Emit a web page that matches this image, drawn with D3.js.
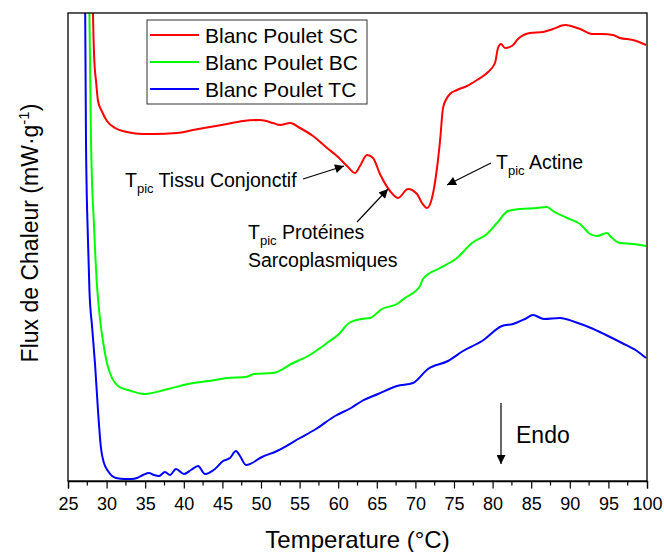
<!DOCTYPE html>
<html><head><meta charset="utf-8">
<script src="https://cdn.jsdelivr.net/npm/d3@7"></script>
<style>body{margin:0;background:#fff}svg{display:block}text{font-family:"Liberation Sans",Arial,sans-serif;fill:#000}</style>
</head><body>
<script>
// Temperatures (°C) and heat flow (arbitrary mW/g units, baseline-shifted)
const tempSC = [28.17,28.24,28.41,28.63,28.89,29.37,30.05,31.09,32.64,34.72,36.01,39.12,41.19,43.39,45.60,47.67,49.87,51.55,52.46,53.76,55.05,56.74,58.55,59.84,61.14,62.18,62.82,63.73,64.51,65.41,66.71,67.75,69.04,70.21,70.85,71.50,72.15,72.80,73.19,73.58,74.09,74.48,75.39,76.68,77.98,79.27,80.31,80.70,81.09,81.61,82.51,83.29,84.84,86.53,87.82,89.38,91.32,92.88,94.17,95.60,96.50,98.19,99.87];
const fluxSC = [5.00,4.67,4.20,4.00,3.80,3.70,3.60,3.53,3.49,3.47,3.47,3.48,3.51,3.54,3.57,3.60,3.61,3.58,3.56,3.58,3.53,3.45,3.33,3.25,3.15,3.08,3.15,3.26,3.23,3.07,2.90,2.83,2.92,2.87,2.78,2.73,2.83,3.13,3.40,3.73,3.83,3.87,3.91,3.95,4.01,4.08,4.18,4.33,4.37,4.33,4.35,4.42,4.48,4.49,4.52,4.56,4.52,4.47,4.47,4.46,4.43,4.41,4.36];

const tempBC = [27.72,27.98,28.37,28.76,29.15,29.53,30.05,30.44,31.48,32.77,34.97,37.95,40.54,44.04,45.60,48.06,49.09,51.55,54.15,56.09,58.55,60.10,61.40,63.08,64.12,65.67,67.62,68.65,70.60,70.98,73.19,75.39,77.33,79.27,80.57,82.00,83.55,85.75,87.05,87.82,89.64,91.32,92.62,93.52,94.82,95.21,96.50,98.19,99.87];
const fluxBC = [5.00,3.40,2.55,1.95,1.62,1.40,1.18,1.08,0.95,0.91,0.87,0.92,0.97,1.01,1.03,1.04,1.07,1.08,1.18,1.25,1.38,1.47,1.58,1.62,1.63,1.72,1.77,1.83,1.95,2.02,2.13,2.23,2.38,2.47,2.58,2.70,2.72,2.73,2.74,2.70,2.63,2.57,2.47,2.45,2.48,2.45,2.38,2.37,2.35];

const tempTC = [27.20,27.33,27.59,27.78,28.11,28.50,28.89,29.27,29.66,30.18,31.22,32.38,33.29,33.94,34.72,35.49,36.14,36.79,37.56,38.21,38.99,40.03,40.93,41.84,42.75,44.04,45.08,45.98,46.76,47.28,48.06,50.13,52.07,55.05,57.12,59.59,61.66,63.08,65.16,67.62,69.69,71.63,74.22,76.17,78.63,81.22,82.64,84.20,85.23,86.66,88.73,90.67,92.75,94.69,96.76,98.70,99.87];
const fluxTC = [5.00,3.40,2.40,1.90,1.55,1.17,0.70,0.33,0.18,0.10,0.03,0.02,0.02,0.03,0.06,0.08,0.06,0.05,0.09,0.06,0.12,0.07,0.11,0.15,0.07,0.12,0.20,0.23,0.30,0.25,0.16,0.24,0.30,0.43,0.52,0.65,0.73,0.80,0.87,0.95,0.98,1.12,1.20,1.30,1.40,1.55,1.57,1.62,1.66,1.62,1.63,1.59,1.53,1.46,1.38,1.30,1.23];

const seriesNames = ["Blanc Poulet SC","Blanc Poulet BC","Blanc Poulet TC"];
const seriesColors = ["#ff0000","#00ff00","#0000ff"];
const xTicks = [25,30,35,40,45,50,55,60,65,70,75,80,85,90,95,100];

const W=664,H=552, L=68, R=647, T=13, B=481;
const svg = d3.select("body").append("svg").attr("width",W).attr("height",H);
const x = d3.scaleLinear().domain([25,100]).range([L,R]);
const y = d3.scaleLinear().domain([0,4.68]).range([B,T]);

const defs = svg.append("defs");
defs.append("clipPath").attr("id","clip").append("rect").attr("x",L).attr("y",T).attr("width",R-L).attr("height",B-T);
defs.append("marker").attr("id","ah").attr("viewBox","0 0 10 10").attr("refX",10).attr("refY",5)
  .attr("markerWidth",13).attr("markerHeight",9).attr("markerUnits","userSpaceOnUse").attr("orient","auto")
  .append("path").attr("d","M0,0 L10,5 L0,10 Z").attr("fill","#000");

const series = [[tempSC,fluxSC],[tempBC,fluxBC],[tempTC,fluxTC]];
const line = d3.line().x(d=>x(d[0])).y(d=>y(d[1])).curve(d3.curveMonotoneX);
const g = svg.append("g").attr("clip-path","url(#clip)");
series.forEach((s,i)=>{
  const pts = s[0].map((t,k)=>[t,s[1][k]]);
  g.append("path").datum(pts).attr("d",line).attr("fill","none")
   .attr("stroke",seriesColors[i]).attr("stroke-width",2).attr("stroke-linejoin","round");
});

// frame
svg.append("rect").attr("x",L).attr("y",T).attr("width",R-L).attr("height",B-T)
  .attr("fill","none").attr("stroke","#000").attr("stroke-width",1.3);

// x axis
const xAxis = d3.axisBottom(x).tickValues(xTicks).tickSize(7.5).tickFormat(d3.format("d"));
const ax = svg.append("g").attr("transform",`translate(0,${B})`).call(xAxis);
ax.select(".domain").attr("stroke","#000").attr("stroke-width",1.3);
ax.selectAll(".tick line").attr("stroke-width",1.2);
ax.selectAll(".tick text").attr("font-size",18).attr("dy","1.05em").style("font-family","Liberation Sans, Arial, sans-serif");
const minor = d3.range(27.5,100,5);
svg.append("g").selectAll("line").data(minor).join("line")
  .attr("x1",d=>x(d)).attr("x2",d=>x(d)).attr("y1",B).attr("y2",B+4.5).attr("stroke","#000").attr("stroke-width",1.2);

svg.append("text").attr("x",(L+R)/2).attr("y",548).attr("text-anchor","middle").attr("font-size",24).text("Temperature (°C)");

const yl = svg.append("text").attr("transform","translate(38,233) rotate(-90)").attr("text-anchor","middle").attr("font-size",23);
yl.append("tspan").text("Flux de Chaleur (mW·g");
yl.append("tspan").attr("font-size",15).attr("dy",-9).text("-1");
yl.append("tspan").attr("dy",9).text(")");

// legend
svg.append("rect").attr("x",147).attr("y",20).attr("width",220).attr("height",84).attr("fill","#fff").attr("stroke","#333").attr("stroke-width",1);
seriesNames.forEach((n,i)=>{
  const cy = 35 + i*27;
  svg.append("line").attr("x1",150).attr("x2",199).attr("y1",cy).attr("y2",cy).attr("stroke",seriesColors[i]).attr("stroke-width",2);
  svg.append("text").attr("x",205).attr("y",cy+8).attr("font-size",21).text(n);
});

// annotations
function tpic(xp,yp,rest){
  const t = svg.append("text").attr("x",xp).attr("y",yp).attr("font-size",19.5);
  t.append("tspan").text("T");
  t.append("tspan").attr("font-size",13).attr("dy",6).text("pic");
  t.append("tspan").attr("dy",-6).text(" "+rest);
}
function arrow(x1,y1,x2,y2){
  svg.append("line").attr("x1",x1).attr("y1",y1).attr("x2",x2).attr("y2",y2).attr("stroke","#000").attr("stroke-width",1.2).attr("marker-end","url(#ah)");
}
tpic(125,187,"Tissu Conjonctif");
arrow(303,179,344,166);
tpic(248,239,"Protéines");
svg.append("text").attr("x",248).attr("y",267).attr("font-size",19.5).text("Sarcoplasmiques");
arrow(357,222,388,189);
tpic(496,169,"Actine");
arrow(491,163,447,185);
arrow(501,403,501,464);
svg.append("text").attr("x",516).attr("y",443).attr("font-size",23).text("Endo");
</script>
</body></html>
